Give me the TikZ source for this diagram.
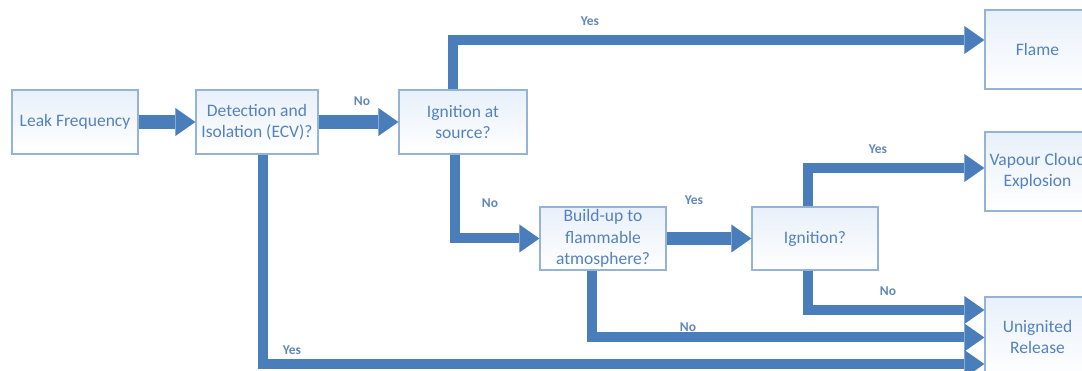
\documentclass[tikz,border=0pt]{standalone}
\usepackage{fontspec}
\setmainfont{Carlito}
\usetikzlibrary{arrows.meta,shadings}
\definecolor{arrowblue}{RGB}{74,126,187}
\definecolor{textblue}{RGB}{84,130,190}
\definecolor{lbltext}{RGB}{95,135,185}
\definecolor{boxline}{RGB}{149,179,215}
\definecolor{boxfill}{RGB}{232,240,250}
\begin{document}
\begin{tikzpicture}[x=1pt,y=-1pt,
  box/.style={draw=boxline, line width=1.2pt, top color=boxfill, bottom color=white,
    text=textblue, font=\fontsize{17.5}{21.5}\selectfont, align=center,
    inner sep=0pt, minimum width=126pt, minimum height=64pt},
  endbox/.style={box, minimum width=105pt, minimum height=79pt},
  conn/.style={draw=arrowblue, line width=13.5pt,
    -{Triangle[length=20pt,width=28pt,line width=0pt]}},
  bent/.style={draw=arrowblue, line width=10pt, line join=miter,
    -{Triangle[length=20pt,width=28pt,line width=0pt]}},
  lbl/.style={text=lbltext, font=\bfseries\fontsize{13.5}{16}\selectfont, inner sep=0pt}]
\useasboundingbox (0,0) rectangle (1082,371);
\clip (0,0) rectangle (1082,371);

\node[box] (leak) at (75,122) {Leak Frequency};
\node[box, minimum width=122pt] (det) at (257,122) {Detection and\\Isolation (ECV)?};
\node[box, minimum width=128pt] (igs) at (463,122) {Ignition at\\source?};
\node[box, minimum height=63pt] (build) at (603,238.5) {Build-up to\\flammable\\atmosphere?};
\node[box, minimum height=63pt] (ign) at (815,238.5) {Ignition?};
\node[endbox] (flame) at (1037.5,49.5) {Flame};
\node[endbox] (vce) at (1037.5,171.5) {Vapour Cloud\\Explosion};
\node[endbox, minimum height=80pt] (unign) at (1037.5,337) {Unignited\\Release};

\draw[conn] (leak.east) -- (det.west);
\draw[conn] (det.east) -- (igs.west);
\draw[bent] ([xshift=-10pt]igs.north) |- ([yshift=9.5pt]flame.west);
\draw[bent] ([xshift=-8pt]igs.south) |- (build.west);
\draw[conn] (build.east) -- (ign.west);
\draw[bent] ([xshift=-7pt]ign.north) |- ([yshift=3.5pt]vce.west);
\draw[bent] ([xshift=-7pt]ign.south) |- ([yshift=27pt]unign.west);
\draw[bent] ([xshift=-11pt]build.south) |- ([yshift=-0.5pt]unign.west);
\draw[bent] ([xshift=6pt]det.south) |- ([yshift=-27pt]unign.west);

\node[lbl] (l1) at (362,101) {No};
\node[lbl] (l2) at (590,21) {Yes};
\node[lbl] (l3) at (490,203) {No};
\node[lbl] (l4) at (694,200) {Yes};
\node[lbl] (l5) at (878,149) {Yes};
\node[lbl] (l6) at (888,291) {No};
\node[lbl] (l7) at (688,327) {No};
\node[lbl] (l8) at (292,350) {Yes};
\end{tikzpicture}
\end{document}
